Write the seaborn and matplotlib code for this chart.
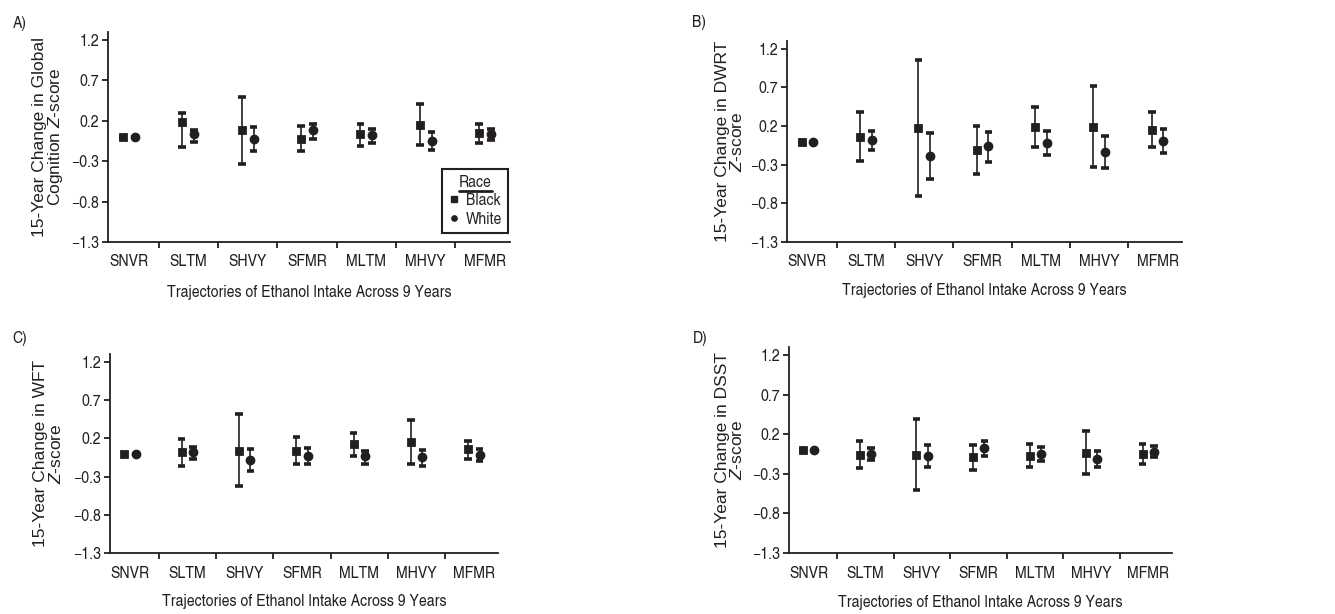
import pandas as pd
import matplotlib
matplotlib.use("Agg")
import matplotlib.pyplot as plt
from matplotlib.lines import Line2D
import seaborn as sns

# -----------------------------
# Data
# -----------------------------
categories = ["SNVR", "SLTM", "SHVY", "SFMR", "MLTM", "MHVY", "MFMR"]
races = ["Black", "White"]
yticks = [-1.3, -0.8, -0.3, 0.2, 0.7, 1.2]
ytick_labels = ["\u22121.3", "\u22120.8", "\u22120.3", "0.2", "0.7", "1.2"]

# A) Global cognition
glob_black = [0.0, 0.19, 0.08, -0.03, 0.03, 0.15, 0.05]
glob_black_lo = [0.0, -0.13, -0.34, -0.18, -0.11, -0.10, -0.08]
glob_black_hi = [0.0, 0.30, 0.50, 0.14, 0.16, 0.41, 0.16]
glob_white = [0.0, 0.03, -0.03, 0.08, 0.02, -0.05, 0.035]
glob_white_lo = [0.0, -0.06, -0.18, -0.03, -0.07, -0.16, -0.04]
glob_white_hi = [0.0, 0.08, 0.12, 0.16, 0.10, 0.055, 0.10]

# B) DWRT
dwrt_black = [0.0, 0.06, 0.17, -0.11, 0.19, 0.19, 0.15]
dwrt_black_lo = [0.0, -0.25, -0.71, -0.42, -0.07, -0.33, -0.07]
dwrt_black_hi = [0.0, 0.38, 1.05, 0.20, 0.45, 0.72, 0.38]
dwrt_white = [0.0, 0.02, -0.19, -0.06, -0.02, -0.13, 0.01]
dwrt_white_lo = [0.0, -0.11, -0.48, -0.26, -0.18, -0.34, -0.15]
dwrt_white_hi = [0.0, 0.14, 0.11, 0.12, 0.14, 0.07, 0.16]

# C) WFT
wft_black = [0.0, 0.02, 0.04, 0.03, 0.12, 0.15, 0.06]
wft_black_lo = [0.0, -0.16, -0.42, -0.13, -0.03, -0.14, -0.07]
wft_black_hi = [0.0, 0.19, 0.52, 0.21, 0.27, 0.44, 0.17]
wft_white = [0.0, 0.02, -0.08, -0.03, -0.03, -0.04, -0.02]
wft_white_lo = [0.0, -0.07, -0.23, -0.13, -0.13, -0.16, -0.10]
wft_white_hi = [0.0, 0.09, 0.06, 0.07, 0.04, 0.05, 0.06]

# D) DSST
dsst_black = [0.0, -0.06, -0.06, -0.09, -0.07, -0.04, -0.05]
dsst_black_lo = [0.0, -0.23, -0.50, -0.25, -0.22, -0.30, -0.17]
dsst_black_hi = [0.0, 0.12, 0.39, 0.06, 0.07, 0.24, 0.07]
dsst_white = [0.0, -0.05, -0.07, 0.02, -0.05, -0.11, -0.02]
dsst_white_lo = [0.0, -0.13, -0.22, -0.08, -0.14, -0.22, -0.09]
dsst_white_hi = [0.0, 0.02, 0.06, 0.11, 0.04, -0.01, 0.05]


def long_frame(black, black_lo, black_hi, white, white_lo, white_hi):
    # three rows per point (lower, estimate, upper): median = estimate,
    # 100% percentile interval = the reported CI
    rows = []
    for race, mid, lo, hi in [("Black", black, black_lo, black_hi),
                              ("White", white, white_lo, white_hi)]:
        for cat, a, b, c in zip(categories, lo, mid, hi):
            for v in (a, b, c):
                rows.append({"traj": cat, "race": race, "z": v})
    return pd.DataFrame(rows)


# tag, y label, data, axes rect, y-label x, tag position
panels = [
    ("A)", "15-Year Change in Global\nCognition $Z$-score",
     long_frame(glob_black, glob_black_lo, glob_black_hi, glob_white, glob_white_lo, glob_white_hi),
     [0.081, 0.606, 0.301, 0.342], -0.107, (0.0095, 0.962)),
    ("B)", "15-Year Change in DWRT\n$Z$-score",
     long_frame(dwrt_black, dwrt_black_lo, dwrt_black_hi, dwrt_white, dwrt_white_lo, dwrt_white_hi),
     [0.5895, 0.606, 0.296, 0.327], -0.106, (0.518, 0.964)),
    ("C)", "15-Year Change in WFT\n$Z$-score",
     long_frame(wft_black, wft_black_lo, wft_black_hi, wft_white, wft_white_lo, wft_white_hi),
     [0.0824, 0.0993, 0.2906, 0.324], -0.119, (0.0095, 0.449)),
    ("D)", "15-Year Change in DSST\n$Z$-score",
     long_frame(dsst_black, dsst_black_lo, dsst_black_hi, dsst_white, dsst_white_lo, dsst_white_hi),
     [0.591, 0.0993, 0.287, 0.3355], -0.115, (0.519, 0.449)),
]

# -----------------------------
# Style
# -----------------------------
sns.set_style("ticks")
plt.rcParams["font.family"] = ["TeX Gyre Heros Cn", "Liberation Sans", "DejaVu Sans"]
plt.rcParams["mathtext.fontset"] = "custom"
plt.rcParams["mathtext.rm"] = "Liberation Sans"
plt.rcParams["mathtext.it"] = "Liberation Sans:italic"
ink = "#231f20"
fs = 12.4

fig = plt.figure(figsize=(13.35, 6.14), dpi=100)

for tag, ylab, df, rect, ylab_x, tag_xy in panels:
    ax = fig.add_axes(rect)
    sns.pointplot(
        data=df, x="traj", y="z", hue="race",
        order=categories, hue_order=races,
        estimator="median", errorbar=("pi", 100),
        dodge=0.2, markers=["s", "o"], linestyle="none",
        palette=[ink, ink], capsize=0.13,
        err_kws={"linewidth": 1.2}, markersize=5,
        legend=False, ax=ax,
    )
    # thicker caps: split each error line into the bar and its two caps
    for ln in list(ax.lines):
        xs, ys = ln.get_data()
        if len(xs) == 8:
            ln.set_data(xs[3:5], ys[3:5])
            ax.plot(xs[[0, 1, 2, 6, 7]], ys[[0, 1, 2, 6, 7]], color=ink,
                    linewidth=2.6, solid_capstyle="butt", zorder=ln.get_zorder())

    ax.set_xlim(-0.35, 6.42)
    ax.set_ylim(-1.3, 1.3)
    ax.set_yticks(yticks)
    ax.set_yticklabels(ytick_labels)
    ax.set_xticks(range(len(categories)))
    ax.set_xticklabels(categories)
    ax.set_xticks([i + 0.5 for i in range(len(categories) - 1)], minor=True)
    ax.tick_params(axis="x", which="major", length=0, pad=9, labelsize=fs, colors=ink)
    ax.tick_params(axis="x", which="minor", length=4.5, width=1.3, color=ink)
    ax.tick_params(axis="y", length=4.5, width=1.3, pad=2, labelsize=fs, colors=ink)
    sns.despine(ax=ax)
    for s in ["left", "bottom"]:
        ax.spines[s].set_linewidth(1.3)
        ax.spines[s].set_color(ink)
    ax.set_ylabel(ylab, fontsize=12.5, color=ink, linespacing=0.95,
                  family=["Liberation Sans", "DejaVu Sans"])
    ax.yaxis.set_label_coords(ylab_x, 0.5)
    ax.set_xlabel("Trajectories of Ethanol Intake Across 9 Years", fontsize=fs, color=ink)
    ax.xaxis.set_label_coords(0.5, -0.205)
    ax.xaxis.label.set_va("top")
    fig.text(tag_xy[0], tag_xy[1], tag, fontsize=fs, color=ink, va="center")

    if tag == "A)":
        handles = [
            Line2D([], [], marker="s", linestyle="none", color=ink, markersize=3.8),
            Line2D([], [], marker="o", linestyle="none", color=ink, markersize=3.8),
        ]
        leg = ax.legend(handles, races, title="Race", loc="lower right",
                        bbox_to_anchor=(0.995, 0.043), borderaxespad=0,
                        fontsize=fs, title_fontsize=fs, handlelength=0.6,
                        handletextpad=0.4, labelspacing=0.2, borderpad=0.35,
                        fancybox=False, framealpha=1, edgecolor=ink)
        leg.get_frame().set_linewidth(1.5)
        legend_ref = leg

# underline the legend title
fig.canvas.draw()
tb = legend_ref.get_title().get_window_extent()
inv = fig.transFigure.inverted()
(x0, y0), (x1, _) = inv.transform([(tb.x0, tb.y0 - 1), (tb.x1, tb.y0)])
fig.add_artist(Line2D([x0, x1], [y0, y0], color=ink, linewidth=2, transform=fig.transFigure))

fig.savefig("out.png", dpi=100)
